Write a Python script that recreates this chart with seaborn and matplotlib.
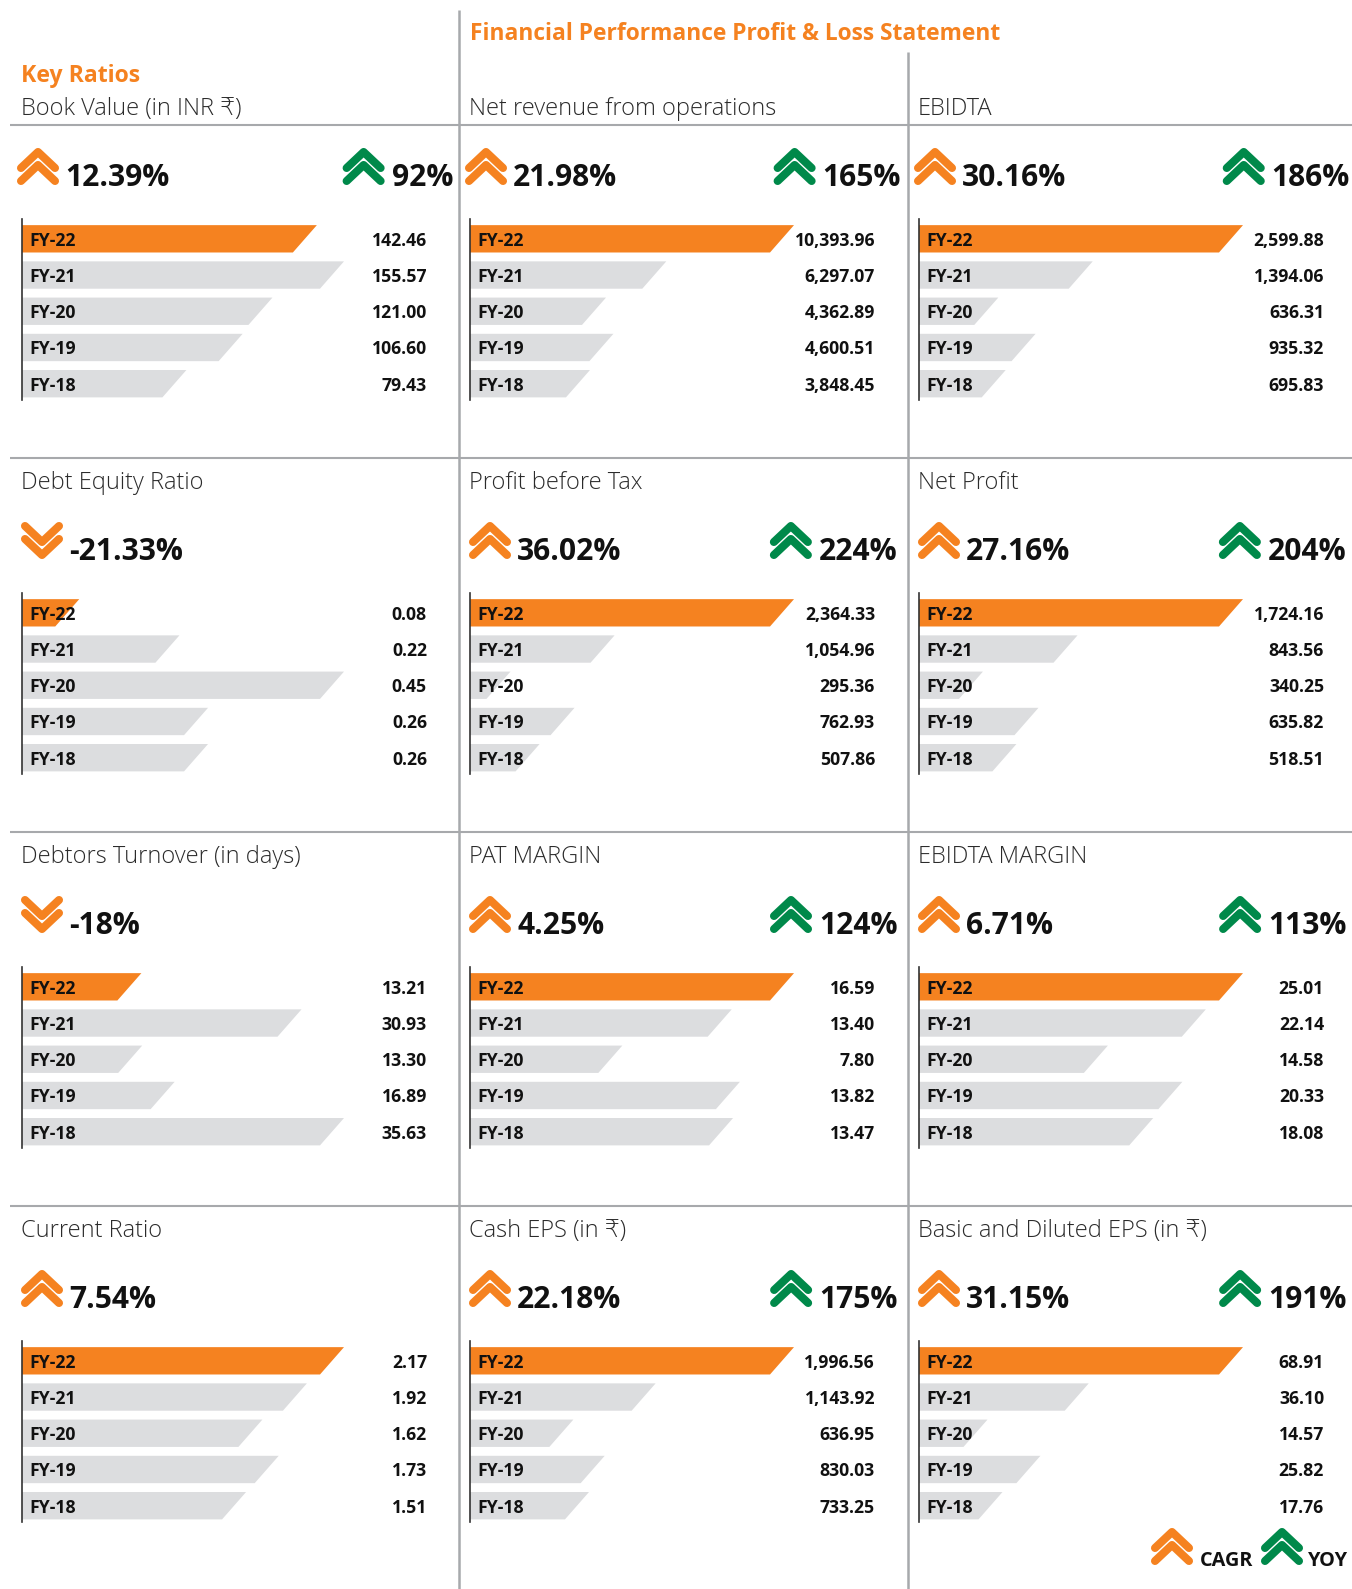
import matplotlib
matplotlib.use("Agg")
import matplotlib.pyplot as plt
import seaborn as sns
from matplotlib.patches import Polygon

# Style
sns.set_style("white")
plt.rcParams["font.family"] = ["Open Sans", "DejaVu Sans"]

W, H = 1352, 1589
ORANGE = "#F58220"
GREEN = "#00894A"
GREY_BAR = "#DCDDDF"
GREY_LINE = "#A7A9AC"
TEXT = "#111111"

YEARS = ["FY-22", "FY-21", "FY-20", "FY-19", "FY-18"]

TITLES = [
    "Book Value (in INR ₹)", "Net revenue from operations", "EBIDTA",
    "Debt Equity Ratio", "Profit before Tax", "Net Profit",
    "Debtors Turnover (in days)", "PAT MARGIN", "EBIDTA MARGIN",
    "Current Ratio", "Cash EPS (in ₹)", "Basic and Diluted EPS (in ₹)",
]
CAGR = ["12.39%", "21.98%", "30.16%", "-21.33%", "36.02%", "27.16%",
        "-18%", "4.25%", "6.71%", "7.54%", "22.18%", "31.15%"]
YOY = ["92%", "165%", "186%", None, "224%", "204%",
       None, "124%", "113%", None, "175%", "191%"]

BOOK_VALUE = [142.46, 155.57, 121.00, 106.60, 79.43]
NET_REVENUE = [10393.96, 6297.07, 4362.89, 4600.51, 3848.45]
EBIDTA = [2599.88, 1394.06, 636.31, 935.32, 695.83]
DEBT_EQUITY = [0.08, 0.22, 0.45, 0.26, 0.26]
PBT = [2364.33, 1054.96, 295.36, 762.93, 507.86]
NET_PROFIT = [1724.16, 843.56, 340.25, 635.82, 518.51]
DEBTORS = [13.21, 30.93, 13.30, 16.89, 35.63]
PAT_MARGIN = [16.59, 13.40, 7.80, 13.82, 13.47]
EBIDTA_MARGIN = [25.01, 22.14, 14.58, 20.33, 18.08]
CURRENT_RATIO = [2.17, 1.92, 1.62, 1.73, 1.51]
CASH_EPS = [1996.56, 1143.92, 636.95, 830.03, 733.25]
BASIC_EPS = [68.91, 36.10, 14.57, 25.82, 17.76]

SERIES = [BOOK_VALUE, NET_REVENUE, EBIDTA, DEBT_EQUITY, PBT, NET_PROFIT,
          DEBTORS, PAT_MARGIN, EBIDTA_MARGIN, CURRENT_RATIO, CASH_EPS, BASIC_EPS]

COL_X = [22, 470, 919]
COL_W = [322, 324, 324]
ROW_DY = 374


def chevron(ov, x, y, color, up=True):
    # two stacked round capped chevrons, x,y = top left of a 42x37 box
    for off in (0, 13):
        if up:
            ys = [y + 20 + off, y + 4 + off, y + 20 + off]
        else:
            ys = [y + 4 + off, y + 20 + off, y + 4 + off]
        ov.plot([x + 4, x + 21, x + 38], ys, color=color, lw=5.8,
                solid_capstyle="round", solid_joinstyle="round", zorder=3)


def slant_bars(ax, data_max, bar_w):
    # swap the seaborn rectangles for the slanted shape
    slant = data_max * 24 / bar_w
    for p in list(ax.patches):
        x0, y0, w, h = p.get_x(), p.get_y(), p.get_width(), p.get_height()
        ax.add_patch(Polygon([(x0, y0), (x0 + w, y0), (x0 + w - slant, y0 + h), (x0, y0 + h)],
                             closed=True, facecolor=p.get_facecolor(), edgecolor="none"))
        p.remove()


def draw_panel(fig, idx, ov):
    row, col = divmod(idx, 3)
    x0 = COL_X[col]
    bar_w = COL_W[col]
    dy = row * ROW_DY
    top, bottom = 219 + dy, 400 + dy
    ax = fig.add_axes([x0 / W, 1 - bottom / H, bar_w / W, (bottom - top) / H])
    vals = SERIES[idx]
    sns.barplot(x=vals, y=YEARS, hue=YEARS, orient="h", width=0.755, legend=False,
                palette=[ORANGE] + [GREY_BAR] * 4, saturation=1, ax=ax)
    slant_bars(ax, max(vals), bar_w)
    ax.set_xlim(0, max(vals))
    ax.set_ylim(4.45, -0.547)
    ax.set_xticks([])
    ax.set_yticks([])
    ax.set_xlabel("")
    ax.set_ylabel("")
    ax.patch.set_alpha(0)
    for s in ("top", "right", "bottom"):
        ax.spines[s].set_visible(False)
    ax.spines["left"].set_color("#333333")
    ax.spines["left"].set_linewidth(1.2)
    trans = ax.get_yaxis_transform()
    for i, v in enumerate(vals):
        ax.text(7.5 / bar_w, i, YEARS[i], transform=trans, ha="left", va="center_baseline",
                fontsize=12.7, fontweight="bold", color=TEXT)
        ax.text(405 / bar_w, i, f"{v:,.2f}", transform=trans, ha="right", va="center_baseline",
                fontsize=12.7, fontweight="bold", color=TEXT, clip_on=False)

    # title and the two figures above the bars
    ov.text(x0 - 1, 106 + dy, TITLES[idx], fontsize=17, fontweight="light", color="#2b2b2b",
            ha="left", va="center_baseline")
    shift = -5 if row == 0 else -1
    base = 186 + dy
    chev_top = 148 + dy
    up = not CAGR[idx].startswith("-")
    chevron(ov, x0 + shift, chev_top, ORANGE, up)
    ov.text(x0 + shift + 48, base, CAGR[idx], fontsize=21.6, fontweight="bold", color=TEXT,
            ha="left", va="baseline")
    if YOY[idx]:
        right = x0 + (431 if row == 0 else 427.5)
        t = ov.text(right, base, YOY[idx], fontsize=21.6, fontweight="bold", color=TEXT,
                    ha="right", va="baseline")
        bb = t.get_window_extent(fig.canvas.get_renderer())
        chevron(ov, bb.x0 - 49, chev_top, GREEN, True)


fig = plt.figure(figsize=(W / 100, H / 100), dpi=100)
ov = fig.add_axes([0, 0, 1, 1], zorder=5)
ov.set_xlim(0, W)
ov.set_ylim(H, 0)
ov.axis("off")
ov.patch.set_alpha(0)

# grid lines
for y in (125, 458, 832, 1206):
    ov.plot([10, W], [y, y], color=GREY_LINE, lw=1.5, zorder=1, solid_capstyle="butt")
ov.plot([459, 459], [10, H], color=GREY_LINE, lw=1.8, zorder=1, solid_capstyle="butt")
ov.plot([908, 908], [52, H], color=GREY_LINE, lw=1.8, zorder=1, solid_capstyle="butt")

ov.text(469.5, 31.5, "Financial Performance Profit & Loss Statement", fontsize=16.4,
        fontweight="bold", color=ORANGE, ha="left", va="center_baseline")
ov.text(21, 73.5, "Key Ratios", fontsize=16.6, fontweight="bold", color=ORANGE,
        ha="left", va="center_baseline")

for i in range(len(SERIES)):
    draw_panel(fig, i, ov)

# key
chevron(ov, 1151, 1528, ORANGE)
chevron(ov, 1261, 1528, GREEN)
ov.text(1200, 1566, "CAGR", fontsize=14.3, fontweight="bold", color=TEXT, va="baseline")
ov.text(1308, 1566, "YOY", fontsize=14.3, fontweight="bold", color=TEXT, va="baseline")

fig.savefig("out.png", dpi=100)
